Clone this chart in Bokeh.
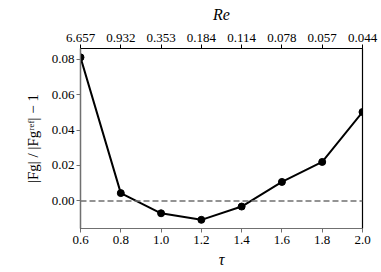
from bokeh.plotting import figure
from bokeh.models import LinearAxis, FixedTicker, PrintfTickFormatter, Span, Range1d
from bokeh.embed import file_html
from bokeh.resources import INLINE

# ---- data ----
tau = [0.6, 0.8, 1.0, 1.2, 1.4, 1.6, 1.8, 2.0]
rel_err = [0.0811, 0.0044, -0.0070, -0.0107, -0.0032, 0.0107, 0.0220, 0.0502]
re_labels = ["6.657", "0.932", "0.353", "0.184", "0.114", "0.078", "0.057", "0.044"]
y_ticks = [0.00, 0.02, 0.04, 0.06, 0.08]
y_label = "|Fg| / |Fgʳᵉᶠ| − 1"

FONT = "Liberation Serif"
GRAY = "#707070"

p = figure(width=381, height=272, frame_width=282, frame_height=180,
           x_range=Range1d(0.6, 2.0), y_range=Range1d(-0.0156, 0.0861),
           output_backend="svg", toolbar_location=None, title=None,
           min_border_left=80, min_border_right=19, min_border_top=48, min_border_bottom=44,
           background_fill_color="white", border_fill_color="white")
p.grid.visible = False
p.outline_line_color = "black"
p.outline_line_width = 1.2

p.add_layout(Span(location=0, dimension="width", line_color=GRAY,
                  line_dash="6 3", line_width=1.5))
p.line(tau, rel_err, line_color="black", line_width=2)
p.scatter(tau, rel_err, size=7, color="black")

def style_axis(ax, color):
    ax.major_label_text_font = FONT
    ax.major_label_text_font_size = "13px"
    ax.major_label_text_color = "black"
    ax.major_tick_in = 0
    ax.major_tick_out = 4
    ax.minor_tick_in = 0
    ax.minor_tick_out = 0
    ax.major_label_standoff = 3
    ax.axis_line_color = color
    ax.axis_line_width = 1.2
    ax.major_tick_line_color = color
    ax.axis_label_text_font = FONT
    ax.axis_label_text_font_size = "16px"
    ax.axis_label_text_font_style = "italic"
    ax.axis_label_text_color = "black"

xa = p.xaxis[0]
xa.ticker = FixedTicker(ticks=tau)
xa.formatter = PrintfTickFormatter(format="%.1f")
xa.axis_label = "τ"
style_axis(xa, GRAY)
xa.axis_label_standoff = 4

ya = p.yaxis[0]
ya.ticker = FixedTicker(ticks=y_ticks)
ya.formatter = PrintfTickFormatter(format="%.2f")
style_axis(ya, GRAY)
ya.major_label_standoff = 2
ya.axis_label = y_label
ya.axis_label_text_font_style = "normal"
ya.axis_label_text_font_size = "15px"
ya.axis_label_standoff = 8

top = LinearAxis(ticker=FixedTicker(ticks=tau),
                 major_label_overrides={t: s for t, s in zip(tau, re_labels)},
                 axis_label="Re")
style_axis(top, "black")
top.axis_label_standoff = 8
p.add_layout(top, "above")

open("out.html", "w").write(file_html(p, INLINE))
